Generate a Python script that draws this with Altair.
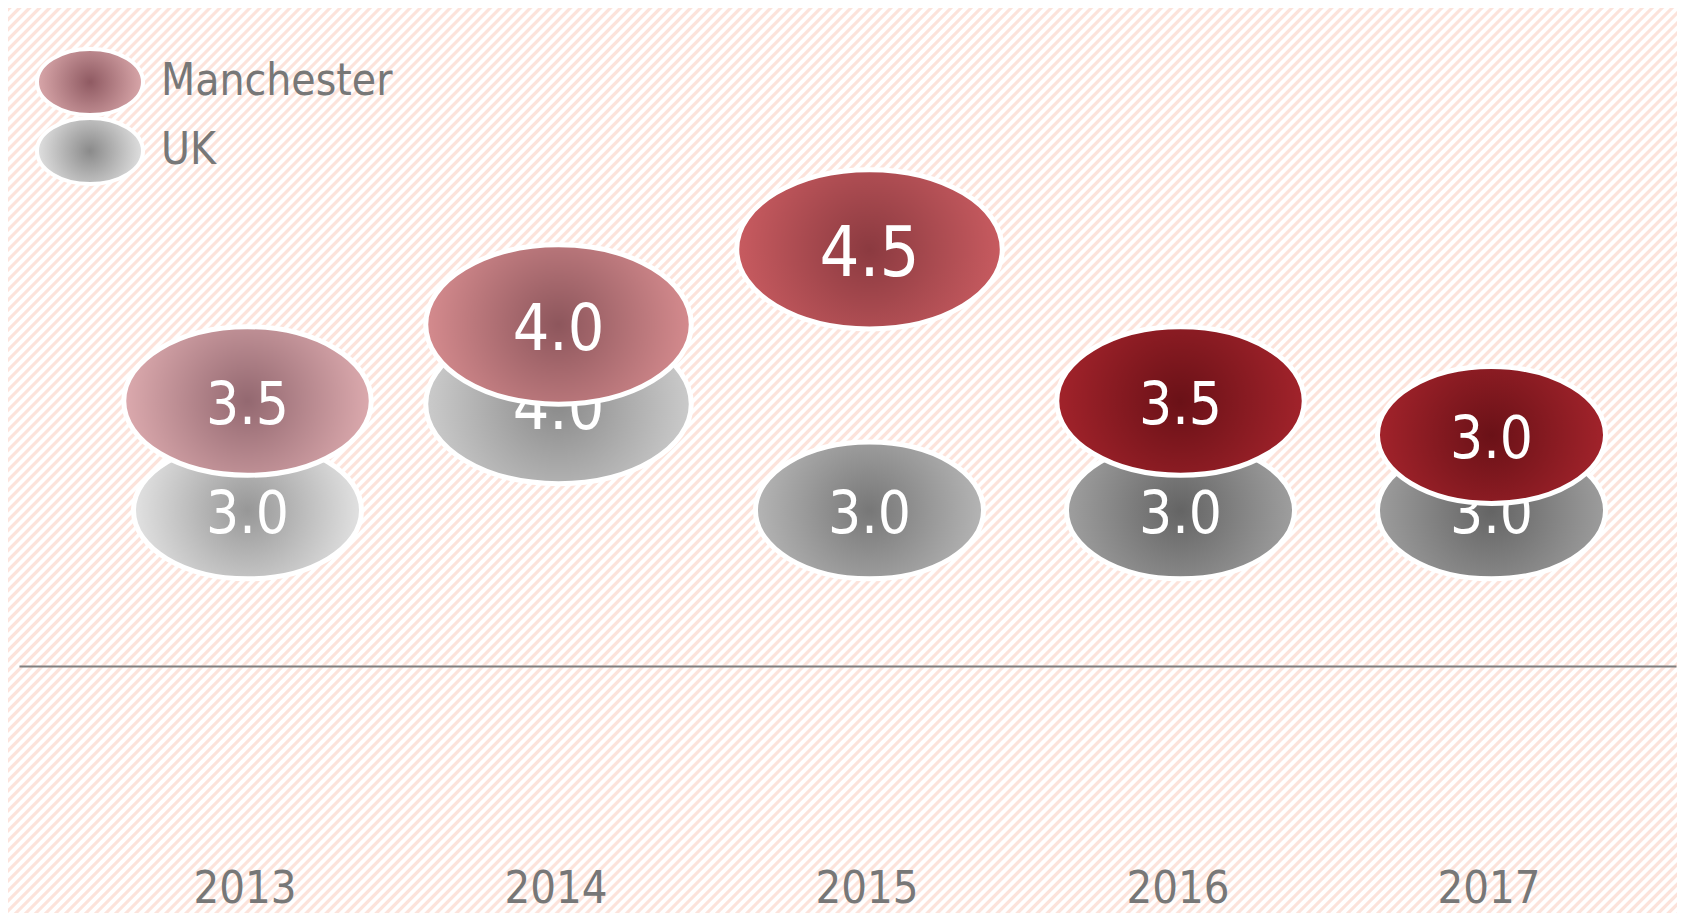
import altair as alt
import pandas as pd

# ---------------- data ----------------
YEARS = ["2013", "2014", "2015", "2016", "2017"]
MANCHESTER = [3.5, 4.0, 4.5, 3.5, 3.0]
UK = [3.0, 4.0, 3.0, 3.0, 3.0]
SERIES = ["Manchester", "UK"]

# ---------------- styles ----------------
MAN_CENTER = ["#936870", "#8d565c", "#8b3a40", "#6a1117", "#6a1117"]
MAN_EDGE = ["#dcaaae", "#d58b8e", "#c85b60", "#a2232b", "#a2232b"]
UK_CENTER = ["#979797", "#8a8a8a", "#777777", "#646464", "#646464"]
UK_EDGE = ["#e2e2e2", "#cbcbcb", "#b5b5b5", "#9f9f9f", "#9d9d9d"]
LEG_CENTER = ["#8f5a62", "#8a8a8a"]
LEG_EDGE = ["#d9a7aa", "#e0e0e0"]

FONT = "DejaVu Sans Condensed, sans-serif"
ELLIPSE = ("M 1 0 C 1 0.3314 0.5523 0.6 0 0.6 C -0.5523 0.6 -1 0.3314 -1 0 "
           "C -1 -0.3314 -0.5523 -0.6 0 -0.6 C 0.5523 -0.6 1 -0.3314 1 0 Z")
LEG_ELLIPSE = ("M 1 0 C 1 0.3448 0.5523 0.6243 0 0.6243 C -0.5523 0.6243 -1 0.3448 -1 0 "
               "C -1 -0.3448 -0.5523 -0.6243 0 -0.6243 C 0.5523 -0.6243 1 -0.3448 1 0 Z")

W, H = 1669, 905
X_SHIFT = 22

rows = []
for y, m, u in zip(YEARS, MANCHESTER, UK):
    rows.append({"year": y, "series": "Manchester", "value": m})
    rows.append({"year": y, "series": "UK", "value": u})
df = pd.DataFrame(rows)

# striped background (style only)
PINK, WHITE = "#fce3db", "#ffffff"
N = round((W + H) / 10)
stops = []
for i in range(N):
    o = i / N
    stops += [
        alt.GradientStop(offset=round(o, 6), color=PINK),
        alt.GradientStop(offset=round(o + 0.3 / N, 6), color=PINK),
        alt.GradientStop(offset=round(o + 0.45 / N, 6), color=WHITE),
        alt.GradientStop(offset=round(o + 0.85 / N, 6), color=WHITE),
    ]
stops.append(alt.GradientStop(offset=1, color=PINK))
k = (W + H) * W / (W * W + H * H)
stripes = alt.LinearGradient(gradient="linear", stops=stops,
                             x1=0, y1=0, x2=k, y2=k * H / W)


def radial(center, edge):
    return alt.RadialGradient(
        gradient="radial",
        stops=[alt.GradientStop(offset=0, color=center),
               alt.GradientStop(offset=1, color=edge)],
        x1=0.5, y1=0.5, r1=0, x2=0.5, y2=0.5, r2=0.5,
    )


def radial_expr(center, edge):
    return ("{gradient: 'radial', x1: 0.5, y1: 0.5, r1: 0, x2: 0.5, y2: 0.5, r2: 0.5, "
            f"stops: [{{offset: 0, color: '{center}'}}, {{offset: 1, color: '{edge}'}}]}}")


X = alt.X(
    "year:O",
    scale=alt.Scale(domain=YEARS, range=[11, 1668], padding=0.664),
    axis=alt.Axis(
        title=None, ticks=False, tickSize=0, domain=True, domainColor="#808080",
        domainWidth=2, offset=658 - H, labelPadding=236, labelBaseline="alphabetic",
        labelFont=FONT, labelFontSize=45, labelColor="#777777", labelAngle=0,
        labelOffset=X_SHIFT - 3, grid=False, zindex=2,
    ),
)

Y_UK = alt.Y("value:Q", axis=None,
             scale=alt.Scale(domain=[3, 4], range=[502.4, 396], zero=False, nice=False))
Y_MAN = alt.Y("value:Q", axis=None,
              scale=alt.Scale(domain=[3, 3.5, 4, 4.5], range=[427, 393, 316.5, 241.3],
                              zero=False, nice=False))
SIZE = alt.Size("value:Q", legend=None,
                scale=alt.Scale(domain=[3, 4], range=[52000, 70500], clamp=True))
FSIZE = alt.Size("value:Q", legend=None,
                 scale=alt.Scale(domain=[3.5, 4, 4.5], range=[58, 64, 70], clamp=True))

base = alt.Chart(df)

background = alt.Chart(pd.DataFrame({"bg": [0]})).mark_rect(fill=stripes).encode(
    x=alt.value(0), x2=alt.value("width"), y=alt.value(0), y2=alt.value("height")
)


def bubbles(series, values_center, values_edge, yenc):
    out = []
    for yr, c, e in zip(YEARS, values_center, values_edge):
        out.append(
            base.transform_filter(
                f"datum.series == '{series}' && datum.year == '{yr}'"
            ).mark_point(
                shape=ELLIPSE, filled=True, fill=radial(c, e), stroke="white",
                strokeWidth=5, opacity=1, xOffset=X_SHIFT,
            ).encode(x=X, y=yenc, size=SIZE)
        )
    return out


def labels(series, yenc):
    return base.transform_filter(f"datum.series == '{series}'").mark_text(
        font=FONT, color="white", align="center", baseline="middle",
        dx=X_SHIFT, dy=6,
    ).encode(x=X, y=yenc, size=FSIZE, text=alt.Text("value:Q", format=".1f"))


def legend_def(legend_y):
    return alt.Legend(
        title=None, orient="none", legendX=27, legendY=legend_y,
        symbolType=LEG_ELLIPSE, symbolSize=11236, symbolStrokeColor="white",
        symbolStrokeWidth=4, symbolOpacity=1,
        labelFont=FONT, labelFontSize=44, labelColor="#777777",
        labelLimit=400, labelOffset=16,
    )


legend_man = base.transform_filter("false").mark_point(
    shape=ELLIPSE, filled=True, opacity=1
).encode(
    color=alt.Color(
        "series:N",
        scale=alt.Scale(domain=[SERIES[0]],
                        range=[alt.ExprRef(expr=radial_expr(LEG_CENTER[0], LEG_EDGE[0]))]),
        legend=legend_def(19),
    )
)
legend_uk = base.transform_filter("false").mark_point(
    shape=ELLIPSE, filled=True, opacity=1
).encode(
    fill=alt.Fill(
        "series:N",
        scale=alt.Scale(domain=[SERIES[1]],
                        range=[alt.ExprRef(expr=radial_expr(LEG_CENTER[1], LEG_EDGE[1]))]),
        legend=legend_def(88),
    )
)

layers = ([background] + bubbles("UK", UK_CENTER, UK_EDGE, Y_UK) + [labels("UK", Y_UK)]
          + bubbles("Manchester", MAN_CENTER, MAN_EDGE, Y_MAN)
          + [labels("Manchester", Y_MAN), legend_man, legend_uk])

chart = alt.layer(*layers).resolve_scale(
    y="independent", size="independent"
).properties(
    width=W, height=H, padding=0,
    autosize=alt.AutoSizeParams(type="none"),
).configure_view(stroke=None)

chart.save("out.html", embed_options={"renderer": "svg", "actions": False})
